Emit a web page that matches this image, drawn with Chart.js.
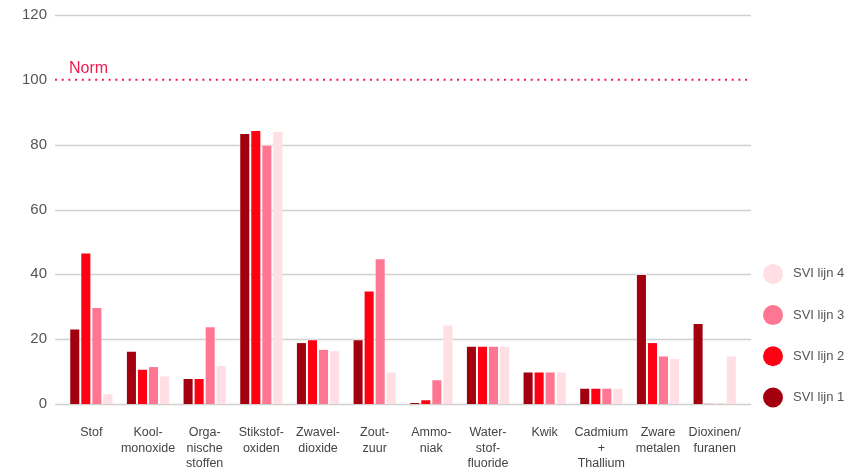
<!DOCTYPE html>
<html>
<head>
<meta charset="utf-8">
<script src="https://cdn.jsdelivr.net/npm/chart.js@4/dist/chart.umd.min.js"></script>
<style>
  html, body { margin: 0; padding: 0; background: #fff; }
  #wrap { width: 859px; height: 470px; position: relative; }
</style>
</head>
<body>
<div id="wrap"><canvas id="c"></canvas></div>
<script>
const categories = [
  ['Stof'], ['Kool-', 'monoxide'], ['Orga-', 'nische', 'stoffen'], ['Stikstof-', 'oxiden'],
  ['Zwavel-', 'dioxide'], ['Zout-', 'zuur'], ['Ammo-', 'niak'], ['Water-', 'stof-', 'fluoride'],
  ['Kwik'], ['Cadmium', '+', 'Thallium'], ['Zware', 'metalen'], ['Dioxinen/', 'furanen']
];
const seriesNames = ['SVI lijn 1', 'SVI lijn 2', 'SVI lijn 3', 'SVI lijn 4'];
const lijn1 = [23.3, 16.4, 8.0, 83.6, 19.1, 20.0, 0.6, 18.0, 10.0, 5.0, 40.1, 25.0];
const lijn2 = [46.7, 10.9, 8.0, 84.5, 20.0, 35.0, 1.5, 18.0, 10.0, 5.0, 19.1, 0.2];
const lijn3 = [29.9, 11.7, 24.0, 80.0, 17.0, 45.0, 7.6, 18.0, 10.0, 5.0, 15.0, 0.2];
const lijn4 = [3.3, 8.8, 12.0, 84.3, 16.6, 10.0, 24.5, 18.0, 10.0, 5.0, 14.2, 15.0];
const yTicks = [0, 20, 40, 60, 80, 100, 120];
const normValue = 100;
const normLabel = 'Norm';

const colors = ['#a3000f', '#ff0013', '#ff7692', '#ffdee4'];
const FONT = "'Liberation Sans', Arial, sans-serif";

const gridPlugin = {
  id: 'gridExt',
  beforeDatasetsDraw(chart) {
    const { ctx, chartArea, scales } = chart;
    const y = scales.y;
    ctx.save();
    ctx.strokeStyle = '#d0d0d0';
    ctx.lineWidth = 1.4;
    yTicks.forEach(v => {
      if (v === normValue) return;
      const py = Math.round(y.getPixelForValue(v)) + 0.5;
      ctx.beginPath();
      ctx.moveTo(chartArea.left - 8, py);
      ctx.lineTo(chartArea.right + 8, py);
      ctx.stroke();
    });
    ctx.restore();
  },
  afterDatasetsDraw(chart) {
    const { ctx, chartArea, scales } = chart;
    const py = scales.y.getPixelForValue(normValue);
    ctx.save();
    ctx.strokeStyle = '#ee1a4c';
    ctx.lineWidth = 2;
    ctx.setLineDash([2, 4.7]);
    ctx.beginPath();
    ctx.moveTo(chartArea.left - 8, py);
    ctx.lineTo(chartArea.right + 8, py);
    ctx.stroke();
    ctx.setLineDash([]);
    ctx.fillStyle = '#ee1a4c';
    ctx.font = '16px ' + FONT;
    ctx.textBaseline = 'alphabetic';
    ctx.textAlign = 'left';
    ctx.fillText(normLabel, chartArea.left + 6, py - 7);
    ctx.restore();
  },
  afterDraw(chart) {
    const { ctx, chartArea } = chart;
    const ds = chart.data.datasets;
    ctx.save();
    ctx.font = '13px ' + FONT;
    ctx.textBaseline = 'middle';
    ctx.textAlign = 'left';
    const n = ds.length;
    for (let i = 0; i < n; i++) {
      const idx = n - 1 - i; // reversed: lijn 4 on top
      const cy = chartArea.bottom - 6.5 - (n - 1 - i) * 41.2;
      const cx = chartArea.right + 30;
      ctx.fillStyle = ds[idx].backgroundColor;
      ctx.beginPath();
      ctx.arc(cx, cy, 10, 0, Math.PI * 2);
      ctx.fill();
      ctx.fillStyle = '#555';
      ctx.fillText(ds[idx].label, cx + 20, cy);
    }
    ctx.restore();
  }
};

const seriesData = [lijn1, lijn2, lijn3, lijn4];
new Chart(document.getElementById('c'), {
  type: 'bar',
  data: {
    labels: categories,
    datasets: seriesData.map((d, i) => ({
      label: seriesNames[i],
      data: d,
      backgroundColor: colors[i],
      borderColor: 'rgba(255,255,255,0.55)',
      borderWidth: 1,
      borderSkipped: 'bottom',
      categoryPercentage: 0.78,
      barPercentage: 1.0
    }))
  },
  plugins: [gridPlugin],
  options: {
    responsive: true,
    maintainAspectRatio: false,
    animation: false,
    layout: { padding: { left: 0, right: 116, top: 15, bottom: 0 } },
    plugins: {
      legend: { display: false },
      tooltip: { enabled: false }
    },
    scales: {
      x: {
        grid: { display: false, drawTicks: false },
        border: { display: false },
        ticks: {
          autoSkip: false,
          maxRotation: 0,
          padding: 21,
          color: '#444',
          font: { family: FONT, size: 12.5, lineHeight: 1.24 }
        },
        afterFit(scale) { scale.height = 66; }
      },
      y: {
        min: 0,
        max: 120,
        grid: { display: false, drawTicks: true, tickLength: 16 },
        border: { display: false },
        ticks: {
          stepSize: 20,
          padding: 0,
          color: '#555',
          font: { family: FONT, size: 15 }
        },
        afterFit(scale) { scale.width = 63; }
      }
    }
  }
});
</script>
</body>
</html>
